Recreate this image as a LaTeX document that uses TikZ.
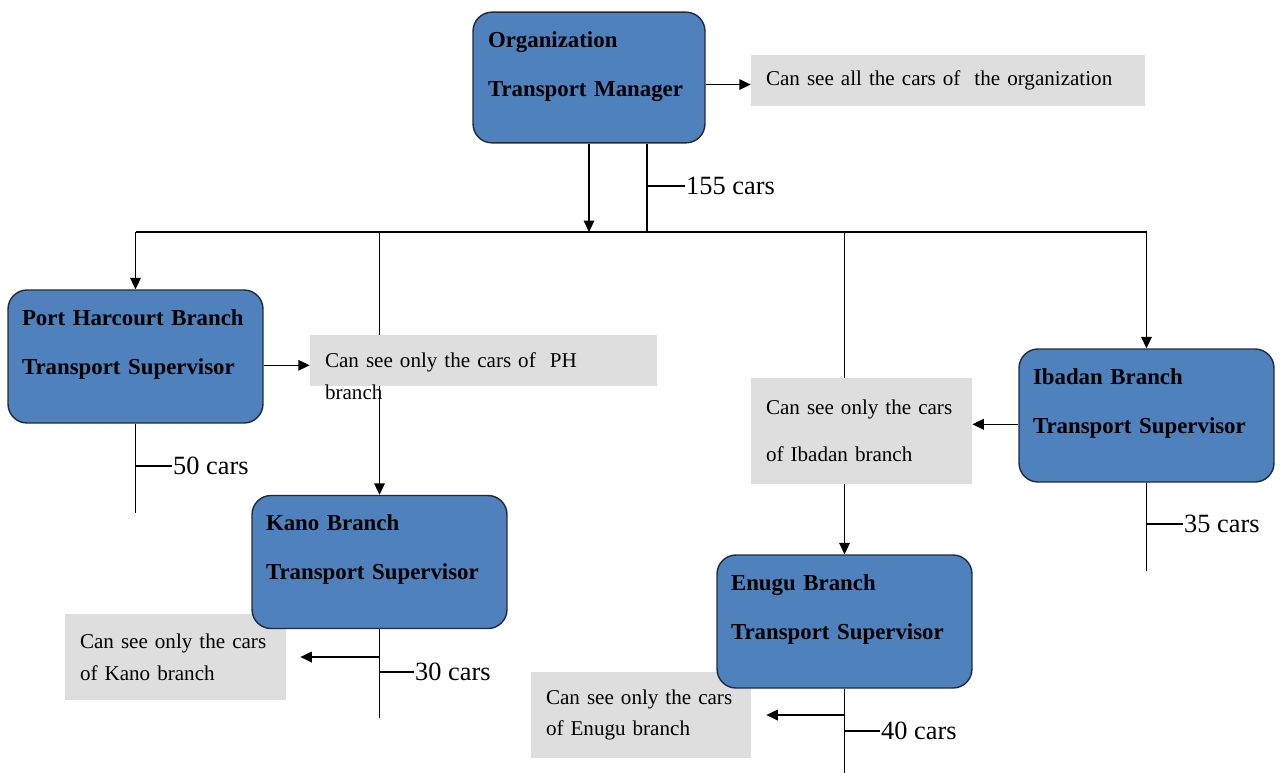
\documentclass[tikz,border=0pt]{standalone}
\usepackage{fontspec}
\setmainfont{Liberation Serif}
\usepackage{tikz}
\usetikzlibrary{positioning, arrows.meta, calc}
\usepackage{xcolor}
\definecolor{boxblue}{HTML}{4F81BD}
\definecolor{boxline}{HTML}{1F2B3D}
\definecolor{notegray}{HTML}{DEDEDE}
\pgfdeclarelayer{bg}
\pgfsetlayers{bg,main}

\tikzset{
	blkbox/.style={draw=boxline, line width=0.8pt, fill=boxblue, rounded corners=0.38cm,
		align=left, inner xsep=0.28cm, inner ysep=0pt, text width=4.54cm,
		text height=20pt, text depth=55.7pt, font=\fontsize{13}{16}\selectfont\bfseries},
	notebox/.style={fill=notegray, align=left, inner xsep=0.3cm, inner ysep=0pt,
		minimum height=1.72cm, font=\fontsize{12}{18}\selectfont},
	countlbl/.style={anchor=west, inner sep=0.5pt, font=\fontsize{15}{18}\selectfont},
	link/.style={line width=0.9pt},
	arr/.style={link, -{Triangle[length=6.5pt,width=6pt]}}
}

\begin{document}
\begin{tikzpicture}[x=0.02cm, y=-0.02cm]
				\useasboundingbox (0,0) rectangle (1280,772);
				
				% notes (under the boxes)
				\node[notebox, text width=7.28cm, minimum height=1.02cm] (orgnote) at (948,80.5) {\mbox{Can see all the cars of~ the organization}};
				\node[notebox, text width=6.34cm, minimum height=1.02cm, text depth=0pt] (phnote) at (483.5,360.5) {\mbox{Can see only the cars of~ PH}\\branch};
				\node[notebox, text width=3.82cm] (kanonote) at (175.5,657) {\mbox{Can see only the cars}\\of Kano branch};
				\node[notebox, text width=3.82cm, minimum height=2.12cm] (ibadannote) at (861.5,431) {\mbox{Can see only the cars}\\[9pt]of Ibadan branch};
				\node[notebox, text width=3.8cm] (enugunote) at (641,715) {\mbox{Can see only the cars}\\of Enugu branch};
				
				% manager and branches
				\node[blkbox, text width=4.04cm, inner xsep=0.3cm, text depth=54.4pt] (org) at (589,77.5) {Organization\\[12pt]Transport Manager};
				\node[blkbox] (ph) at (135.5,356.5) {Port Harcourt Branch\\[12pt]Transport Supervisor};
				\node[blkbox] (kano) at (379.5,562) {Kano Branch\\[12pt]Transport Supervisor};
				\node[blkbox] (ibadan) at (1146.5,415.5) {Ibadan Branch\\[12pt]Transport Supervisor};
				\node[blkbox] (enugu) at (844.5,621.5) {Enugu Branch\\[12pt]Transport Supervisor};
				
				% bus and drops
				\coordinate (bus) at (589,232);
				\begin{pgfonlayer}{bg}
					\draw[link] (ph |- bus) -- (ibadan |- bus);
					\draw[arr] (ph |- bus) -- (ph.north);
					\draw[arr] (kano |- bus) -- (kano.north);
					\draw[arr] (enugu |- bus) -- (enugu.north);
					\draw[arr] (ibadan |- bus) -- (ibadan.north);
				\end{pgfonlayer}
				\draw[arr] (org.south) -- (bus);
				\draw[link] ([xshift=1.16cm]org.south) coordinate (orgtap) -- (orgtap |- bus);
				
				% who sees what
				\draw[arr] ([yshift=-4pt]org.east) -- ([yshift=-4pt]org.east -| orgnote.west);
				\draw[arr] ([yshift=-5pt]ph.east) -- ([yshift=-5pt]ph.east -| phnote.west);
				\draw[arr] ([yshift=-5pt]ibadan.west) -- ([yshift=-5pt]ibadan.west -| ibadannote.east);
				\draw[arr] (kano.south |- kanonote.east) -- ([xshift=0.28cm]kanonote.east);
				\draw[arr] (enugu.south |- enugunote.east) -- ([xshift=0.3cm]enugunote.east);
				
				% car counts
				\node[countlbl] (orgcnt) at (685,186) {155 cars};
				\draw[link] (orgtap |- orgcnt.west) -- (orgcnt.west);
				
				\draw[link] (ph.south) -- ++(0,89) coordinate (phend);
				\node[countlbl] (phcnt) at (172,466) {50 cars};
				\draw[link] (ph.south |- phcnt.west) -- (phcnt.west);
				
				\draw[link] (kano.south) -- ++(0,89) coordinate (kanoend);
				\node[countlbl] (kanocnt) at (414,672) {30 cars};
				\draw[link] (kano.south |- kanocnt.west) -- (kanocnt.west);
				
				\draw[link] (ibadan.south) -- ++(0,88) coordinate (ibadanend);
				\node[countlbl] (ibadancnt) at (1183,524) {35 cars};
				\draw[link] (ibadan.south |- ibadancnt.west) -- (ibadancnt.west);
				
				\draw[link] (enugu.south) -- ++(0,84) coordinate (enuguend);
				\node[countlbl] (enugucnt) at (880,731) {40 cars};
				\draw[link] (enugu.south |- enugucnt.west) -- (enugucnt.west);
			\end{tikzpicture}
\end{document}
